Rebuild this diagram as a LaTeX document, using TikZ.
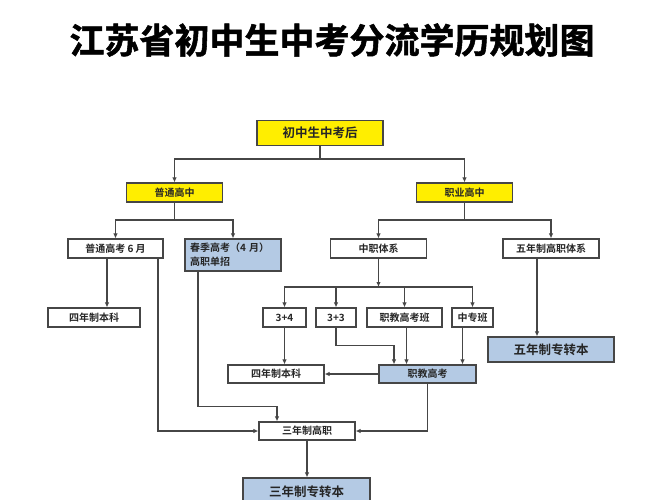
\documentclass[tikz,border=0pt]{standalone}
\usepackage{fontspec}
\newfontfamily\cjk{Noto Sans CJK SC}[BoldFont={Noto Sans CJK SC Bold}]
\newfontfamily\titlefont{Noto Sans CJK SC Bold}[FakeBold=1.5]
\usetikzlibrary{arrows.meta,positioning,calc}
\definecolor{boxyellow}{RGB}{255,238,0}
\definecolor{boxblue}{RGB}{180,202,228}
\definecolor{linegray}{RGB}{70,70,70}

\begin{document}
\begin{tikzpicture}[x=1pt, y=-1pt,
    box/.style={draw=linegray, line width=1.2pt, fill=white, inner sep=0pt,
        minimum width=96pt, minimum height=19pt, text=black!85,
        font=\cjk\bfseries\fontsize{10}{12}\selectfont},
    ybox/.style={box, fill=boxyellow},
    bbox/.style={box, fill=boxblue},
    bigtxt/.style={font=\cjk\bfseries\fontsize{12.5}{14}\selectfont},
    seg/.style={draw=linegray, line width=1.1pt},
    conn/.style={seg, -{Latex[length=5pt,width=4.5pt]}}
]
\useasboundingbox[fill=white] (0,0) rectangle (661,500);

% title
\node[font=\titlefont\fontsize{35}{35}\selectfont] (title) at (332,40) {江苏省初中生中考分流学历规划图};

% boxes
\node[ybox, bigtxt, minimum width=126pt, minimum height=25pt] (start) at (320,133) {初中生中考后};
\node[ybox] (gaozhong) at (174.5,192.5) {普通高中};
\node[ybox] (zhiye) at (464.5,192.5) {职业高中};

\node[box, minimum width=95pt] (gaokao) at (115.5,248.5) {普通高考 6 月};
\node[bbox, minimum height=32pt, text width=86pt, align=left,
      font=\cjk\bfseries\fontsize{10}{14}\selectfont] (chunji) at (233,255) {春季高考（4 月）\\高职单招};
\node[box] (zhongzhi) at (378.5,248.5) {中职体系};
\node[box] (wunian) at (551,248.5) {五年制高职体系};

\node[box, minimum width=92pt] (benkeA) at (94,317.5) {四年制本科};
\node[box, minimum width=43pt] (sansi) at (284.5,317.5) {3+4};
\node[box, minimum width=40pt] (sansan) at (336,317.5) {3+3};
\node[box, minimum width=75pt] (gaokaoban) at (404.5,317.5) {职教高考班};
\node[box, minimum width=41pt] (zhongzhuan) at (472.5,317.5) {中专班};

\node[bbox, bigtxt, minimum width=126pt, minimum height=25pt] (wuzhuan) at (551,349.5) {五年制专转本};
\node[box, minimum height=18pt] (benkeB) at (276,374) {四年制本科};
\node[bbox, minimum width=97pt, minimum height=18pt] (zhijiao) at (427.5,374) {职教高考};
\node[box, minimum height=18pt] (gaozhi) at (307,431) {三年制高职};
\node[bbox, bigtxt, minimum width=127pt, minimum height=28pt] (sanzhuan) at (306.5,492) {三年制专转本};

% first split
\coordinate (s1) at (320,159);
\draw[seg] (start) -- (s1);
\draw[conn] (s1) -| (gaozhong);
\draw[conn] (s1) -| (zhiye);

\coordinate (s2) at (174.5,220);
\draw[seg] (gaozhong) -- (s2);
\draw[conn] (s2) -| (gaokao);
\draw[conn] (s2) -| (chunji);

\coordinate (s3) at (464.5,220);
\draw[seg] (zhiye) -- (s3);
\draw[conn] (s3) -| (zhongzhi);
\draw[conn] (s3) -| (wunian);

% general high school
\coordinate (g1) at ($(gaokao.south)+(-8.5,0)$);
\draw[conn] (g1) -- (g1 |- benkeA.north);
\draw[conn] ([xshift=42.5pt]gaokao.south) |- (gaozhi.west);
\draw[conn] ([xshift=-35pt]chunji.south) |- ($(gaozhi.north)+(-30,-15)$) -- ([xshift=-30pt]gaozhi.north);

% vocational system
\coordinate (s4) at (378.5,287);
\draw[conn] (zhongzhi) -- (s4);
\draw[conn] (s4) -| (sansi);
\draw[conn] (s4) -| (sansan);
\draw[conn] (s4) -| (gaokaoban);
\draw[conn] (s4) -| (zhongzhuan);

\coordinate (w1) at ($(wunian.south)+(-14,0)$);
\draw[conn] (w1) -- (w1 |- wuzhuan.north);

\draw[conn] (sansi.south) -- (sansi.south |- benkeB.north);
\draw[conn] (sansan.south) |- ($(zhijiao.north)+(-33.5,-19)$) -- ([xshift=-33.5pt]zhijiao.north);
\coordinate (k1) at ($(gaokaoban.south)+(2,0)$);
\draw[conn] (k1) -- (k1 |- zhijiao.north);
\coordinate (z1) at ($(zhongzhuan.south)+(-10,0)$);
\draw[conn] (z1) -- (z1 |- zhijiao.north);

\draw[conn] (zhijiao) -- (benkeB);
\draw[conn] (zhijiao.south) |- (gaozhi.east);
\draw[conn] (gaozhi.south) -- (gaozhi.south |- sanzhuan.north);
\end{tikzpicture}
\end{document}
